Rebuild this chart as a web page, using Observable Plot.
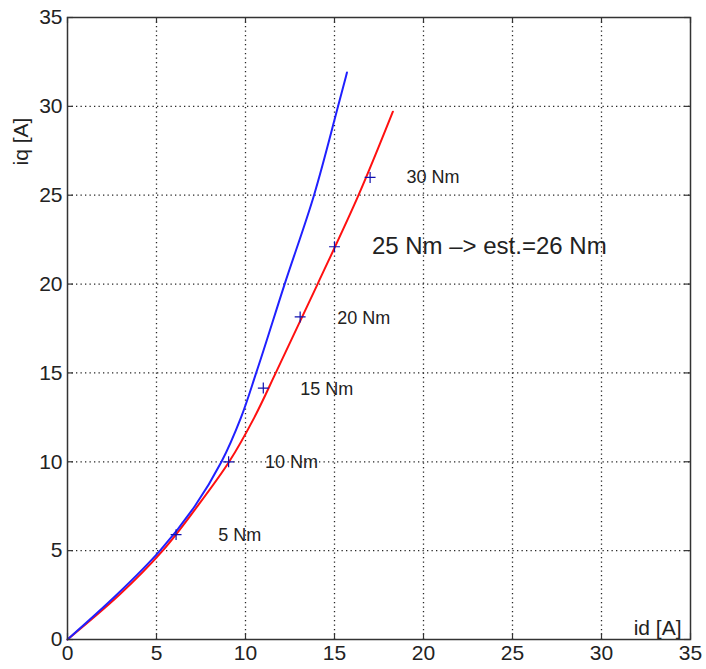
<!DOCTYPE html>
<html>
<head>
<meta charset="utf-8">
<script src="https://cdn.jsdelivr.net/npm/d3@7"></script>
<script src="https://cdn.jsdelivr.net/npm/@observablehq/plot@0.6"></script>
<style>
  html, body { margin: 0; padding: 0; background: #fff; }
  #chart svg { display: block; }
</style>
</head>
<body>
<div id="chart"></div>
<script>
// Blue curve (id, iq)
const blueId = [0, 2.75, 5.2, 7.15, 8.65, 9.75, 10.6, 12.2, 13.85, 15.2, 15.7];
const blueIq = [0, 2.5, 5.0, 7.5, 10.0, 12.5, 15.0, 20.0, 25.0, 30.0, 31.9];
// Red curve (id, iq)
const redId = [0, 2.9, 5.35, 7.3, 9.08, 10.5, 11.7, 14.05, 16.35, 18.28];
const redIq = [0, 2.5, 5.0, 7.5, 10.0, 12.5, 15.0, 20.0, 25.0, 29.7];
// Measured points (+)
const markId = [6.1, 9.05, 11.0, 13.07, 15.0, 17.0];
const markIq = [5.9, 10.0, 14.15, 18.15, 22.1, 26.0];
// Torque labels
const labelText = ["5 Nm", "10 Nm", "15 Nm", "20 Nm", "30 Nm"];
const labelId = [8.47, 11.1, 13.08, 15.15, 19.05];
const labelIq = [5.87, 10.0, 14.1, 18.05, 26.0];
// Annotation
const noteText = ["25 Nm –> est.=26 Nm"];
const noteId = [17.1];
const noteIq = [22.1];
// Axes
const axisTicks = [0, 5, 10, 15, 20, 25, 30, 35];
const gridTicks = [5, 10, 15, 20, 25, 30];
const xTitle = "id [A]";
const yTitle = "iq [A]";

const zip = (xs, ys) => xs.map((x, i) => ({x, y: ys[i]}));
const blue = zip(blueId, blueIq);
const red = zip(redId, redIq);
const marks = zip(markId, markIq);
const labels = labelText.map((t, i) => ({t, x: labelId[i], y: labelIq[i]}));
const notes = noteText.map((t, i) => ({t, x: noteId[i], y: noteIq[i]}));

const gridStyle = {stroke: "#000", strokeWidth: 1.3, strokeDasharray: "1.3,3.2", strokeOpacity: 0.85};
const tickStyle = {stroke: "#333", strokeWidth: 1.2};

const chart = Plot.plot({
  width: 706,
  height: 669,
  marginLeft: 67,
  marginRight: 16,
  marginTop: 17,
  marginBottom: 30,
  style: {fontFamily: "'Liberation Sans', Arial, Helvetica, sans-serif", fontSize: "21px", color: "#222", background: "#fff"},
  x: {domain: [0, 35], ticks: axisTicks, tickSize: 0, tickPadding: 6, label: null},
  y: {domain: [0, 35], ticks: axisTicks, tickSize: 0, tickPadding: 5, label: null},
  marks: [
    Plot.ruleX(gridTicks, gridStyle),
    Plot.ruleY(gridTicks, gridStyle),
    // inward ticks on all four sides
    Plot.ruleX(axisTicks, {x: d => d, y1: 0, y2: 0, insetBottom: 6, ...tickStyle}),
    Plot.ruleX(axisTicks, {x: d => d, y1: 35, y2: 35, insetTop: 6, ...tickStyle}),
    Plot.ruleY(axisTicks, {y: d => d, x1: 0, x2: 0, insetRight: -6, ...tickStyle}),
    Plot.ruleY(axisTicks, {y: d => d, x1: 35, x2: 35, insetRight: 6, ...tickStyle}),
    Plot.line(red, {x: "x", y: "y", stroke: "#ff1010", strokeWidth: 2, curve: "monotone-y"}),
    Plot.line(blue, {x: "x", y: "y", stroke: "#2020ff", strokeWidth: 2, curve: "monotone-y"}),
    Plot.dot(marks, {x: "x", y: "y", symbol: "plus", r: 3.6, stroke: "#1010b0", strokeWidth: 1.2}),
    Plot.text(labels, {x: "x", y: "y", text: "t", textAnchor: "start", fontSize: 18, fill: "#222"}),
    Plot.text(notes, {x: "x", y: "y", text: "t", textAnchor: "start", fontSize: 24, fill: "#222"}),
    Plot.text([xTitle], {frameAnchor: "bottom-right", text: d => d, textAnchor: "end", lineAnchor: "middle", dx: -9, dy: -11, fontSize: 21, fill: "#222"}),
    Plot.text([yTitle], {frameAnchor: "top-left", text: d => d, textAnchor: "middle", lineAnchor: "middle", rotate: -90, dx: -46, dy: 124, fontSize: 21, fill: "#222"}),
    Plot.frame({stroke: "#333", strokeWidth: 1.5})
  ]
});
document.getElementById("chart").appendChild(chart);
</script>
</body>
</html>
